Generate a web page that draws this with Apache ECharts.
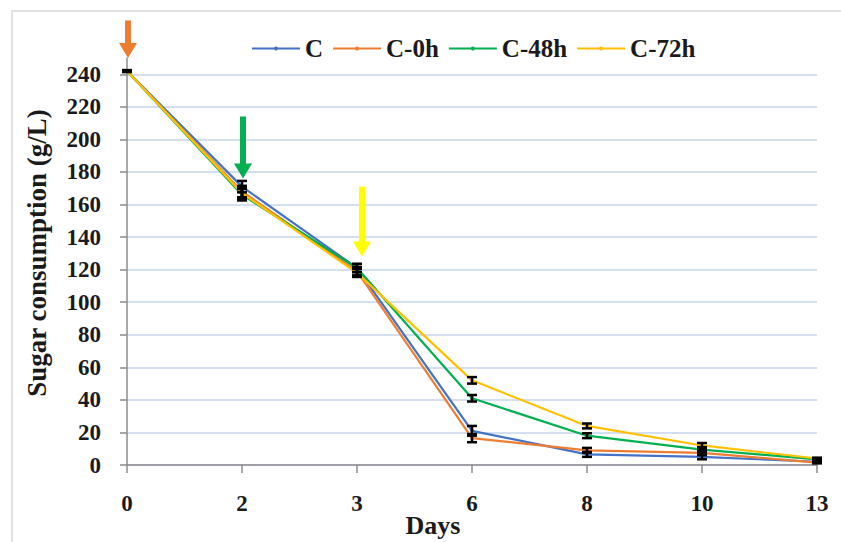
<!DOCTYPE html>
<html>
<head>
<meta charset="utf-8">
<script src="https://cdn.jsdelivr.net/npm/echarts@6/dist/echarts.min.js"></script>
<style>
  html, body { margin: 0; padding: 0; background: #fff; }
  #chart { width: 841px; height: 542px; }
</style>
</head>
<body>
<div id="chart"></div>
<script>
(function(){
  // 数据
  var days = ['0', '2', '3', '6', '8', '10', '13'];
  var seriesNames = ['C', 'C-0h', 'C-48h', 'C-72h'];
  var valC    = [242, 171, 121, 21, 6.5, 5, 2];
  var valC0   = [242, 168, 119, 16.5, 9, 7.5, 1.5];
  var valC48  = [242, 166, 121, 41, 18, 9.5, 3.5];
  var valC72  = [242, 167, 118, 52, 24, 12, 4];
  var errC    = [0.5, 3.5, 2.5, 3, 1.5, 1.5, 0.5];
  var errC0   = [0.5, 3.5, 2.5, 2.5, 1.5, 1.5, 0.5];
  var errC48  = [0.5, 3.5, 2.5, 2, 1.5, 1.5, 0.5];
  var errC72  = [0.5, 3.5, 2.5, 2, 1.5, 1.5, 0.5];
  var yTicks  = [0, 20, 40, 60, 80, 100, 120, 140, 160, 180, 200, 220, 240];

  // 箭头标注 (day index, from value, to value)
  var arrowDay   = [0, 1, 2];
  var arrowFrom  = [273, 214, 171];
  var arrowTo    = [250, 176, 128];
  var arrowColor = ['#ED7D31', '#00B050', '#FFFF00'];
  var arrowDx    = [1, 1, 5];

  var colors = ['#4472C4', '#ED7D31', '#00B050', '#FFC000'];
  var values = [valC, valC0, valC48, valC72];
  var errors = [errC, errC0, errC48, errC72];
  var font = "'Palatino Linotype', 'Book Antiqua', 'Liberation Serif', serif";

  var myChart = echarts.init(document.getElementById('chart'), null, { renderer: 'svg' });

  var series = [];
  values.forEach(function(v, i){
    series.push({
      name: seriesNames[i],
      type: 'line',
      data: v,
      symbol: 'circle',
      symbolSize: 4,
      showSymbol: true,
      lineStyle: { width: 2.2, color: colors[i] },
      itemStyle: { color: colors[i] },
      z: 2
    });
  });
  // 误差线
  values.forEach(function(v, i){
    series.push({
      type: 'custom',
      silent: true,
      z: 5,
      data: v.map(function(y, k){ return [k, y - errors[i][k], y + errors[i][k]]; }),
      renderItem: function(params, api){
        var lo = api.coord([api.value(0), api.value(1)]);
        var hi = api.coord([api.value(0), api.value(2)]);
        var w = 5;
        var st = { stroke: '#000', lineWidth: 2.5 };
        return {
          type: 'group',
          children: [
            { type: 'line', shape: { x1: lo[0], y1: lo[1], x2: hi[0], y2: hi[1] }, style: st },
            { type: 'line', shape: { x1: lo[0] - w, y1: lo[1], x2: lo[0] + w, y2: lo[1] }, style: st },
            { type: 'line', shape: { x1: hi[0] - w, y1: hi[1], x2: hi[0] + w, y2: hi[1] }, style: st }
          ]
        };
      }
    });
  });

  var gridColors = yTicks.map(function(){ return '#C7D5EE'; });
  gridColors.push('transparent');

  var option = {
    backgroundColor: '#fff',
    animation: false,
    color: colors,
    legend: {
      data: seriesNames,
      top: 31,
      left: 246,
      itemWidth: 48,
      itemHeight: 5,
      itemGap: 9,
      textStyle: { fontFamily: font, fontWeight: 'bold', fontSize: 25, color: '#1a1a1a' }
    },
    grid: { left: 127, right: 24, top: 58, bottom: 77 },
    xAxis: {
      type: 'category',
      data: days,
      boundaryGap: false,
      axisLine: { lineStyle: { color: '#8c8c8c', width: 1.5 } },
      axisTick: { show: true, length: 8, lineStyle: { color: '#8c8c8c', width: 1.5 } },
      axisLabel: { margin: 27, fontFamily: font, fontWeight: 'bold', fontSize: 23, color: '#1a1a1a' },
      splitLine: { show: false }
    },
    yAxis: {
      type: 'value',
      min: 0,
      max: 250,
      interval: 20,
      axisLine: { show: true, lineStyle: { color: '#8c8c8c', width: 1.5 } },
      axisTick: { show: true, length: 7, lineStyle: { color: '#8c8c8c', width: 1.5 } },
      axisLabel: { margin: 26, showMaxLabel: false, fontFamily: font, fontWeight: 'bold', fontSize: 23, color: '#1a1a1a' },
      splitLine: { show: true, lineStyle: { color: gridColors, width: 1.5 } }
    },
    graphic: [
      {
        type: 'rect',
        shape: { x: 12, y: 11, width: 840, height: 540 },
        style: { fill: 'none', stroke: '#d9d9d9', lineWidth: 1.5 },
        silent: true
      },
      {
        type: 'text',
        x: 37, y: 253,
        rotation: Math.PI / 2,
        style: {
          text: 'Sugar consumption (g/L)',
          font: 'bold 27px ' + font,
          fill: '#1a1a1a',
          align: 'center',
          verticalAlign: 'middle'
        }
      },
      {
        type: 'text',
        x: 433, y: 525,
        style: {
          text: 'Days',
          font: 'bold 26px ' + font,
          fill: '#1a1a1a',
          align: 'center',
          verticalAlign: 'middle'
        }
      }
    ],
    series: series
  };

  myChart.setOption(option);

  // 画箭头
  var arrows = arrowDay.map(function(d, i){
    var p0 = myChart.convertToPixel({ xAxisIndex: 0, yAxisIndex: 0 }, [d, arrowFrom[i]]);
    var p1 = myChart.convertToPixel({ xAxisIndex: 0, yAxisIndex: 0 }, [d, arrowTo[i]]);
    var x = p0[0] + arrowDx[i];
    var sw = 3, hw = 9, hh = 15;
    return {
      type: 'polygon',
      z: 10,
      silent: true,
      shape: {
        points: [
          [x - sw, p0[1]], [x + sw, p0[1]], [x + sw, p1[1] - hh], [x + hw, p1[1] - hh],
          [x, p1[1]], [x - hw, p1[1] - hh], [x - sw, p1[1] - hh]
        ]
      },
      style: { fill: arrowColor[i] }
    };
  });
  myChart.setOption({ graphic: option.graphic.concat(arrows) });

  window.addEventListener('resize', function(){
    myChart.resize();
  });
})();
</script>
</body>
</html>
